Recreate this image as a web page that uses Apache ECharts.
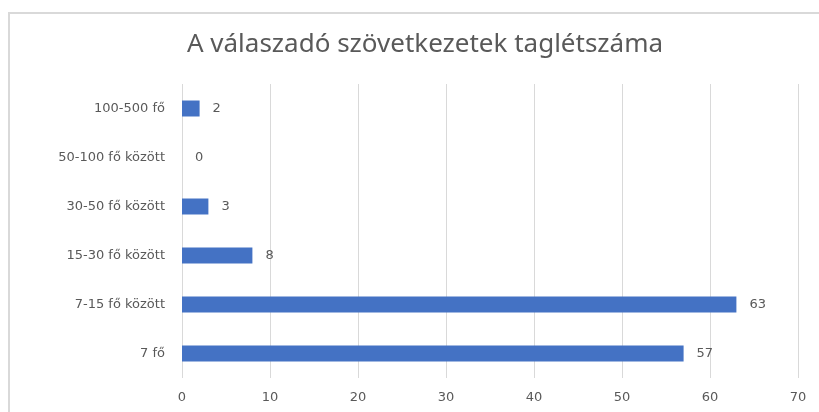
<!DOCTYPE html>
<html>
<head>
<meta charset="utf-8">
<script src="https://cdn.jsdelivr.net/npm/echarts@6/dist/echarts.min.js"></script>
<style>
    html, body {
        margin: 0;
        padding: 0;
        overflow: hidden;
        background: #ffffff;
    }
    #chart {
        width: 819px;
        height: 412px;
    }
</style>
</head>
<body>
<div id="chart"></div>
<script>
    // kategóriák felülről lefelé
    let categories = ['100-500 fő', '50-100 fő között', '30-50 fő között', '15-30 fő között', '7-15 fő között', '7 fő'];
    let counts = [2, 0, 3, 8, 63, 57];
    let xTicks = [0, 10, 20, 30, 40, 50, 60, 70];

    let myChart = echarts.init(document.getElementById('chart'));
    let textColor = '#595959';
    let titleFont = 'Noto Sans';
    // szélesebb betű, mert a minta vízszintesen nyújtott
    let labelFont = 'DejaVu Sans';

    let option = {
        animation: false,
        // a diagram kerete (csak bal és felső él látszik)
        graphic: [{
            type: 'polyline',
            silent: true,
            shape: {points: [[9, 420], [9, 13], [830, 13]]},
            style: {stroke: '#d9d9d9', lineWidth: 2, fill: null}
        }],
        title: {
            text: 'A válaszadó szövetkezetek taglétszáma',
            left: 420,
            top: 27,
            textAlign: 'center',
            textStyle: {
                fontFamily: titleFont,
                fontSize: 26,
                fontWeight: 'normal',
                color: textColor
            }
        },
        grid: {
            left: 182,
            right: 21,
            top: 84,
            bottom: 34
        },
        xAxis: {
            type: 'value',
            min: xTicks[0],
            max: xTicks[xTicks.length - 1],
            interval: 10,
            axisLine: {show: false},
            axisTick: {show: false},
            axisLabel: {
                margin: 13,
                fontFamily: labelFont,
                fontSize: 13,
                color: textColor
            },
            splitLine: {
                lineStyle: {color: '#d9d9d9', width: 1}
            }
        },
        yAxis: {
            type: 'category',
            inverse: true,
            data: categories,
            axisLine: {show: false},
            axisTick: {show: false},
            axisLabel: {
                margin: 17,
                fontFamily: labelFont,
                fontSize: 13,
                color: textColor
            }
        },
        series: [{
            type: 'bar',
            data: counts,
            barWidth: 16,
            itemStyle: {color: '#4472c4'},
            label: {
                show: true,
                position: 'right',
                distance: 13,
                fontFamily: labelFont,
                fontSize: 13,
                color: textColor
            }
        }]
    };

    myChart.setOption(option);
</script>
</body>
</html>
